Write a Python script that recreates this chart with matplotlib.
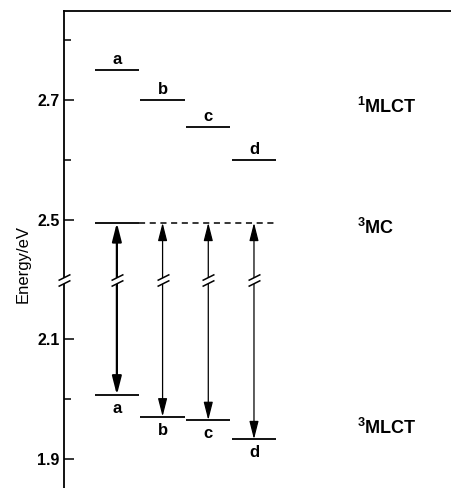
import matplotlib
matplotlib.use('Agg')

import numpy as np
import matplotlib.pyplot as plt
from matplotlib.path import Path

plt.rcParams['font.family'] = ['Liberation Sans', 'DejaVu Sans']
plt.rcParams['mathtext.fontset'] = 'custom'
plt.rcParams['mathtext.rm'] = 'Liberation Sans'
plt.rcParams['mathtext.bf'] = 'Liberation Sans:bold'

# energy levels (eV) of the four complexes
complexes = ['a', 'b', 'c', 'd']
e_1mlct = [2.75, 2.70, 2.655, 2.60]
e_3mc = 2.495
e_3mlct = [2.007, 1.971, 1.965, 1.933]

state_names = [r'$\mathbf{^{1}MLCT}$', r'$\mathbf{^{3}MC}$', r'$\mathbf{^{3}MLCT}$']
state_label_e = [2.688, 2.486, 1.952]

major_ticks = [1.9, 2.1, 2.5, 2.7]
minor_ticks = [2.0, 2.6, 2.8]
break_e = 2.3

# broken energy axis: the range 2.2-2.4 eV is squeezed out
_e_pts = [0.0, 2.199, 2.4, 5.0]
_y_pts = [0.2, 2.399, 2.4, 5.0]


def forward(e):
    return np.interp(e, _e_pts, _y_pts)


def inverse(y):
    return np.interp(y, _y_pts, _e_pts)


fig = plt.figure(figsize=(4.51, 4.88), dpi=100)
ax = fig.add_axes([64 / 451, 0.0, 1 - 64 / 451, 1 - 11 / 488])
ax.set_yscale('function', functions=(forward, inverse))
ax.set_ylim(1.8515, 2.849)
ax.set_xlim(-1.157, 7.311)

x = np.arange(len(complexes))
hw = 0.485

# levels
ax.hlines(e_1mlct, x - hw, x + hw, color='k', lw=1.3)
ax.hlines(e_3mlct, x - hw, x + hw, color='k', lw=1.3)
ax.hlines(e_3mc, x[0] - hw, x[0] + hw, color='k', lw=1.3)
ax.plot([x[0] + hw, x[-1] + hw], [e_3mc, e_3mc], color='k', lw=1.1,
        ls=(0, (4, 3)))

for xi, lab, e1, e3 in zip(x, complexes, e_1mlct, e_3mlct):
    ax.annotate(lab, (xi, e1), xytext=(0, 4.5), textcoords='offset points',
                ha='center', va='baseline', fontsize=12, fontweight='bold')
    ax.annotate(lab, (xi, e3), xytext=(0, -13), textcoords='offset points',
                ha='center', va='baseline', fontsize=12, fontweight='bold')

# arrows 3MC <-> 3MLCT
for i, (xi, e3) in enumerate(zip(x, e_3mlct)):
    ax.annotate('', xy=(xi, e_3mc), xytext=(xi, e3),
                arrowprops=dict(arrowstyle='<|-|>,head_length=1.1,head_width=0.28',
                                lw=1.6 if i == 0 else 0.9, color='k',
                                mutation_scale=10, shrinkA=0, shrinkB=0))

# break marks on the axis and the arrows
gap = Path([(-6, -6), (6, 0), (6, 6), (-6, 0), (-6, -6)])
slashes = Path([(-6, -6), (6, 0), (-6, 0), (6, 6)],
               [Path.MOVETO, Path.LINETO, Path.MOVETO, Path.LINETO])
bx = np.concatenate([[ax.get_xlim()[0]], x])
by = np.full(len(bx), break_e)
ax.plot(bx, by, ls='none', marker=gap, ms=8.6, mfc='white', mec='none',
        zorder=5, clip_on=False)
ax.plot(bx, by, ls='none', marker=slashes, ms=8.6, mfc='none', mec='k',
        mew=1.1, zorder=6, clip_on=False)

# state names
for name, e in zip(state_names, state_label_e):
    ax.text(5.25, e, name, ha='left', va='center', fontsize=13)

ax.set_yticks(major_ticks)
ax.set_yticklabels([f'{t:.1f}' for t in major_ticks], fontweight='bold',
                   fontsize=11.5)
ax.set_yticks(minor_ticks, minor=True)
ax.tick_params(axis='y', which='major', direction='in', length=7, width=1.1,
               pad=3)
ax.tick_params(axis='y', which='minor', direction='in', length=5, width=1.1)
ax.set_xticks([])
ax.set_ylabel('Energy/eV', fontsize=12)
ax.yaxis.set_label_coords(-0.085, 0.47)

for s in ['right', 'bottom']:
    ax.spines[s].set_visible(False)
for s in ['left', 'top']:
    ax.spines[s].set_linewidth(1.3)

fig.savefig('out.png', dpi=100)
